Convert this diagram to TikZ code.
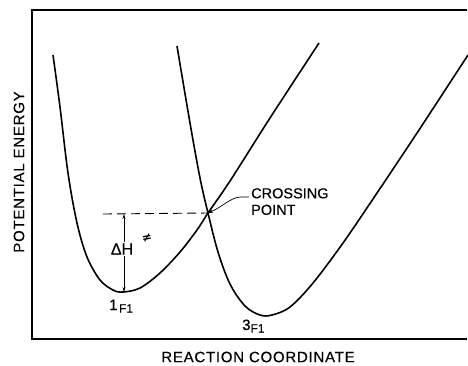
\documentclass[tikz,border=0pt]{standalone}
\usepackage{fontspec}
\setmainfont{Liberation Sans}[FakeBold=0.4]
\newfontfamily\symfont{DejaVu Sans}
\usetikzlibrary{arrows.meta}
\begin{document}
\begin{tikzpicture}[x=1pt,y=-1pt,
  curve/.style={line width=1.6pt,line join=round},
  lbl/.style={inner sep=0pt,font=\fontsize{14.5}{16.5}\selectfont},
  axislbl/.style={inner sep=0pt,font=\fontsize{15}{16}\selectfont\addfontfeatures{LetterSpace=5}}]
\useasboundingbox (0,0) rectangle (468,365);
% frame
\draw[line width=1.2pt] (467,10) -- (32,10) -- (32,339) -- (467,339);
% coordinates
\coordinate (cross) at (208,213);
\coordinate (dstart) at (103,214);
% singlet curve
\draw[curve] plot[smooth,tension=0.55] coordinates {(53,55) (60,107) (68,173) (77,223) (87,257) (100,280) (113,290) (123,292) (140,288) (160,273) (180,252) (197,230) (208,213) (230,181) (270,118) (319,43)};
% triplet curve
\draw[curve] plot[smooth,tension=0.55] coordinates {(177,46) (190,123) (200,178) (208,213) (218,252) (230,284) (245,306) (260,315) (272,315) (290,307) (313,283) (343,243) (377,193) (417,133) (468,55)};
% dashed
\draw[line width=0.9pt,dash pattern=on 9pt off 5pt] (dstart) -- (cross);
% Delta H arrow
\node[lbl,font=\fontsize{16}{17}\selectfont,fill=white,inner sep=1.5pt] (dh) at (122,249) {ΔH};
\node[lbl,font=\symfont\bfseries\fontsize{12}{12}\selectfont,rotate=10] (ne) at (147,238) {≠};
\coordinate (atop) at (124,214);
\coordinate (abot) at (124,292);
\draw[line width=0.7pt,-{Stealth[length=5pt,width=3pt]}] (dh.north -| atop) -- (atop);
\draw[line width=0.7pt,-{Stealth[length=5pt,width=3pt]}] (dh.south -| atop) -- (abot);
% labels
\node[lbl,font=\fontsize{15}{16}\selectfont,anchor=base west] (l1) at (109,310) {1\kern1.5pt\raisebox{-2.5pt}{\fontsize{12}{12}\selectfont F1}};
\node[lbl,font=\fontsize{15}{16}\selectfont,anchor=base west] (l3) at (242,330) {3\raisebox{-2.5pt}{\fontsize{12}{12}\selectfont F1}};
\node[lbl,align=left,anchor=north west] (cp) at (251,188) {CROSSING\\POINT};
\draw[line width=0.7pt,-{Stealth[length=5pt,width=3.5pt]}] (249,197) -- (240,197) .. controls (230,198) and (222,207) .. (cross);
% axis labels
\node[axislbl,rotate=90] (ylab) at (19,172) {POTENTIAL ENERGY};
\node[axislbl] (xlab) at (258,357) {REACTION COORDINATE};
\end{tikzpicture}
\end{document}
